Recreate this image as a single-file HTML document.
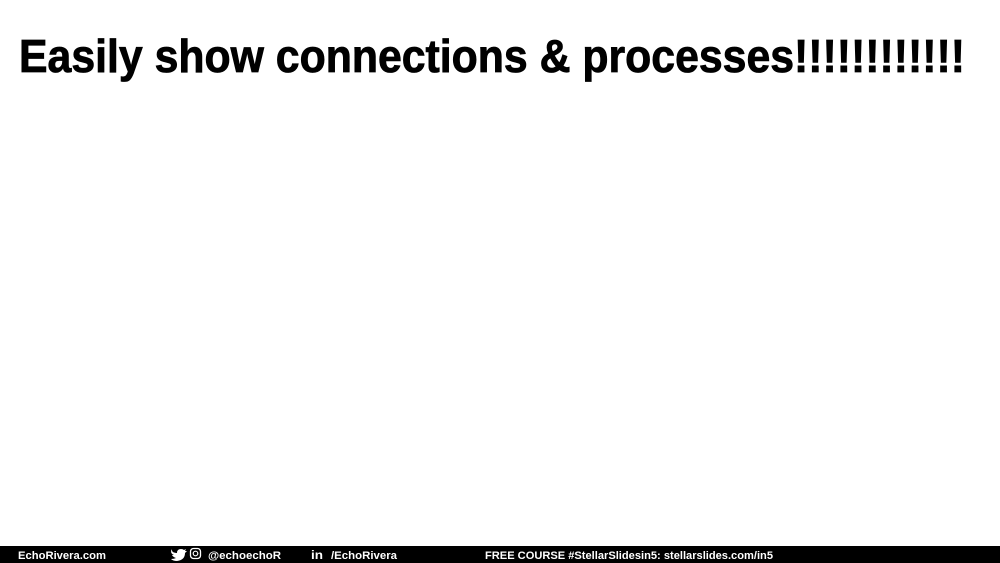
<!DOCTYPE html>
<html><head><meta charset="utf-8"><style>
html,body{margin:0;padding:0;background:#fff;width:1000px;height:563px;overflow:hidden}
svg{display:block}
</style></head><body>
<svg width="1000" height="563" viewBox="0 0 1000 563" xmlns="http://www.w3.org/2000/svg">
<rect width="1000" height="563" fill="#fff"/>
<text x="19" y="72" font-family="Liberation Sans, sans-serif" font-weight="bold" font-size="46" fill="#000" stroke="#000" stroke-width="0.8" textLength="946" lengthAdjust="spacingAndGlyphs">Easily show connections &amp; processes!!!!!!!!!!!!</text>
<rect x="0" y="546" width="1000" height="17" fill="#000"/>
<g font-family="Liberation Sans, sans-serif" font-weight="bold" font-size="11" fill="#fff">
<text x="18" y="559" textLength="88" lengthAdjust="spacingAndGlyphs">EchoRivera.com</text>
<path d="M171 551 q3 2 6 2 q0-4 4-4 q2 0 3 1 l2-1 -1 2 2 0 -2 2 q0 7-8 8 q-4 0-6-2 q3 0 5-1 q-3-1-4-3 l2 0 q-3-1-3-4 l2 1 q-2-2-1-4z" fill="#fff"/>
<rect x="190.5" y="548.5" width="10" height="10" rx="3" fill="none" stroke="#fff" stroke-width="1.3"/>
<circle cx="195.5" cy="553.5" r="2.3" fill="none" stroke="#fff" stroke-width="1.2"/>
<text x="208" y="559" textLength="73" lengthAdjust="spacingAndGlyphs">@echoechoR</text>
<text x="311" y="559" font-size="12" textLength="12" lengthAdjust="spacingAndGlyphs">in</text>
<text x="331" y="559" textLength="66" lengthAdjust="spacingAndGlyphs">/EchoRivera</text>
<text x="485" y="559" textLength="288" lengthAdjust="spacingAndGlyphs">FREE COURSE #StellarSlidesin5: stellarslides.com/in5</text>
</g>
</svg>
</body></html>
